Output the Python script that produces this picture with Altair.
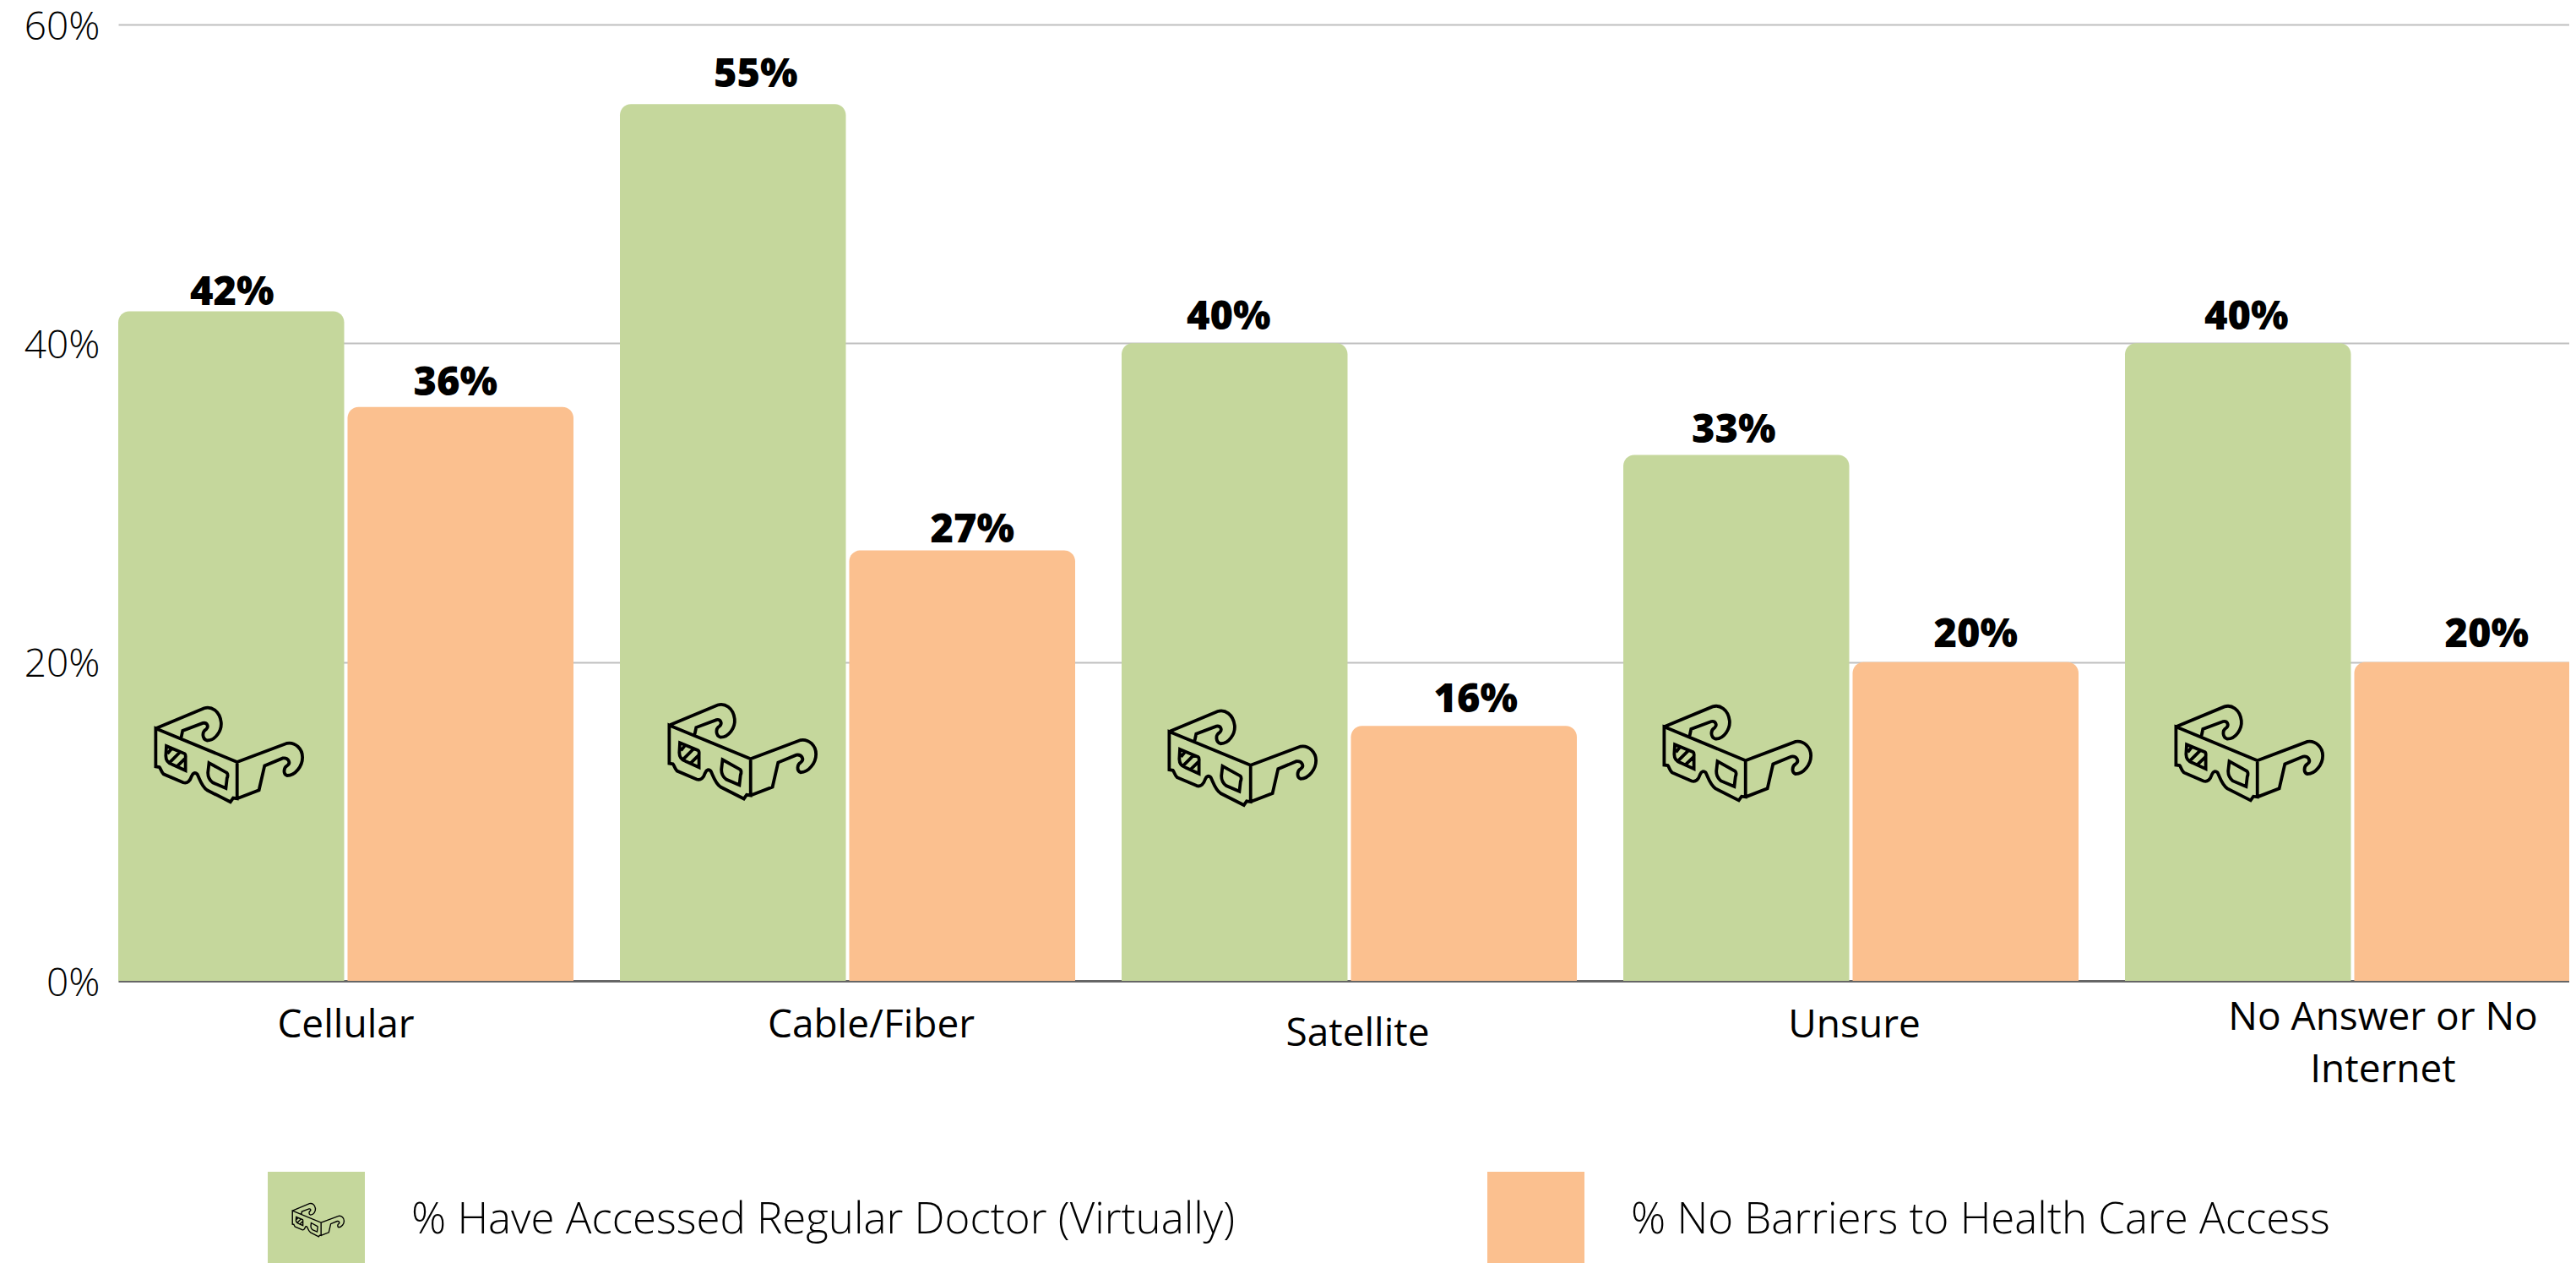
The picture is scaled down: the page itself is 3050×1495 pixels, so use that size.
import re
import altair as alt
import pandas as pd

CATEGORIES = ["Cellular", "Cable/Fiber", "Satellite", "Unsure", "No Answer or No Internet"]
AXIS_LINES = [["Cellular"], ["Cable/Fiber"], ["Satellite"], ["Unsure"], ["No Answer or No", "Internet"]]
SERIES = ["% Have Accessed Regular Doctor (Virtually)", "% No Barriers to Health Care Access"]
DOCTOR = [42, 55, 40, 33, 40]
BARRIERS = [36, 27, 16, 20, 20]
ICON_LEVEL = [14.2, 14.4, 14.0, 14.3, 14.3]
COLORS = ["#C5D79C", "#FBC08F"]

AXIS_DX = [0, 28, 10, 4, 36]
AXIS_DY = [53, 53, 63, 53, 44]
LABEL_DX = [[1, -6], [27, 12], [-7, 14], [-3, 12], [10, 23]]
LABEL_DY = [[-22, -28], [-34, -24], [-30, -30], [-28, -32], [-30, -32]]
ICON_DX = [-2, 12, 10, 2, 14]

RAW = ("M42 122 L332 242 L332 372 L318 370 L308 384 L225 342 C205 328 200 305 190 285 C183 278 175 280 170 292 "
       "C165 308 155 320 140 315 L70 285 C60 275 60 265 55 260 L42 258 Z "
       "M42 122 L215 50 C240 42 270 60 275 100 C278 130 255 165 225 165 C208 160 205 135 222 125 C232 115 225 100 210 103 L138 130 L132 158 "
       "M332 242 L510 175 C540 170 565 195 565 225 C565 255 540 290 510 290 C495 285 498 262 510 255 C525 245 515 225 495 228 L430 255 L410 342 L332 372 "
       "M80 185 L145 212 C150 215 148 220 148 230 L148 272 L100 250 C85 245 78 235 78 220 Z "
       "M84 212 L100 192 M90 245 L130 205 M115 260 L148 228 "
       "M232 245 L295 280 C300 285 298 295 296 300 L292 335 L245 315 C232 305 228 295 228 280 Z")


def normalise(path, cx=305.0, cy=215.0, r=265.0):
    idx = [0]

    def rep(m):
        v = float(m.group(0))
        c = cx if idx[0] % 2 == 0 else cy
        idx[0] += 1
        return f"{(v - c) / r:.4f}"

    return re.sub(r"\d+(?:\.\d+)?", rep, path)


GLASSES = normalise(RAW)

rows = []
for c, a, b in zip(CATEGORIES, DOCTOR, BARRIERS):
    rows.append({"cat": c, "series": SERIES[0], "value": a})
    rows.append({"cat": c, "series": SERIES[1], "value": b})
df = pd.DataFrame(rows)

FONT = "Open Sans"
x_scale = alt.Scale(domain=CATEGORIES, range=[0, 2915], paddingInner=0.0926, paddingOuter=0)
offset_scale = alt.Scale(domain=SERIES, paddingInner=0.0147, paddingOuter=0)
y_scale = alt.Scale(domain=[0, 60], nice=False)

x_enc = alt.X("cat:N", scale=x_scale, sort=CATEGORIES, title=None,
              axis=alt.Axis(labels=False, ticks=False, domain=True, domainColor="#666666", domainWidth=3, grid=False))
y_enc = alt.Y("value:Q", scale=y_scale, title=None, stack=None,
              axis=alt.Axis(values=[0, 20, 40, 60], labelExpr="datum.value + '%'", domain=False, ticks=False,
                            grid=True, gridColor="#BFBFBF", gridWidth=2, labelFont=FONT, labelFontSize=46,
                            labelFontWeight=300, labelColor="#000000", labelPadding=22, labelOffset=3))

bars = alt.Chart(df).mark_bar(cornerRadiusTopLeft=13, cornerRadiusTopRight=13).encode(
    x=x_enc,
    xOffset=alt.XOffset("series:N", scale=offset_scale, sort=SERIES),
    y=y_enc,
    color=alt.Color("series:N", scale=alt.Scale(domain=SERIES, range=COLORS), sort=SERIES,
                    legend=alt.Legend(title=None, orient="none", legendX=177, legendY=1358, columns=2,
                                      direction="horizontal", columnPadding=298, padding=0,
                                      symbolType="square", symbolSize=13225, symbolStrokeWidth=0, symbolOpacity=1,
                                      labelFont=FONT, labelFontSize=51, labelFontWeight=300, labelColor="#000000",
                                      labelOffset=55, labelLimit=1200)),
)

layers = [bars]

for i, c in enumerate(CATEGORIES):
    one = pd.DataFrame({"cat": [c], "level": [ICON_LEVEL[i]]})
    # Symbol marks ignore dx, so the small sideways nudge goes into the icon's own path.
    icon = normalise(RAW, cx=305.0 - ICON_DX[i] * 3.01)
    layers.append(alt.Chart(one).mark_point(shape=icon, size=31000, filled=False, stroke="#000000", strokeWidth=3.8,
                                            opacity=1).encode(
        x=alt.X("cat:N", scale=x_scale, sort=CATEGORIES),
        xOffset=alt.XOffset(datum=SERIES[0], scale=offset_scale),
        y=alt.Y("level:Q", scale=y_scale),
    ))
    layers.append(alt.Chart(pd.DataFrame({"cat": [c], "base": [0]})).mark_text(
        font=FONT, fontSize=46, color="#000000", baseline="middle", align="center",
        lineHeight=62, dx=AXIS_DX[i], dy=AXIS_DY[i]).encode(
        x=alt.X("cat:N", scale=x_scale, sort=CATEGORIES),
        y=alt.Y("base:Q", scale=y_scale),
        text=alt.value(AXIS_LINES[i]),
    ))
    for j, s in enumerate(SERIES):
        val = DOCTOR[i] if j == 0 else BARRIERS[i]
        lab = pd.DataFrame({"cat": [c], "series": [s], "value": [val], "label": [f"{val}%"]})
        layers.append(alt.Chart(lab).mark_text(
            font=FONT, fontSize=47, fontWeight=800, color="#000000", baseline="middle", align="center",
            dx=LABEL_DX[i][j], dy=LABEL_DY[i][j]).encode(
            x=alt.X("cat:N", scale=x_scale, sort=CATEGORIES),
            xOffset=alt.XOffset("series:N", scale=offset_scale, sort=SERIES),
            y=alt.Y("value:Q", scale=y_scale),
            text="label:N",
        ))

# The glasses on the first legend swatch: a second legend drawn over the first.
layers.append(alt.Chart(pd.DataFrame({"icon": ["glasses"], "base": [0]})).mark_point(opacity=0).encode(
    x=alt.value(0),
    y=alt.Y("base:Q", scale=y_scale),
    shape=alt.Shape("icon:N", scale=alt.Scale(domain=["glasses"], range=[GLASSES]),
                    legend=alt.Legend(title=None, orient="none", legendX=205, legendY=1383, padding=0,
                                      symbolSize=3844, symbolStrokeColor="#000000", symbolFillColor="transparent",
                                      symbolStrokeWidth=1.4, symbolOpacity=1, labelOpacity=0, labelFontSize=1,
                                      labelExpr="' '")),
))

chart = alt.layer(*layers).resolve_scale(x="shared", y="shared").properties(
    width=2902, height=1132,
    padding={"left": 132, "top": 21, "right": 0, "bottom": 334},
    autosize=alt.AutoSizeParams(type="none"),
    background="#FFFFFF",
).configure_view(stroke=None)

chart.save("out.html", embed_options={"renderer": "svg", "actions": False})
